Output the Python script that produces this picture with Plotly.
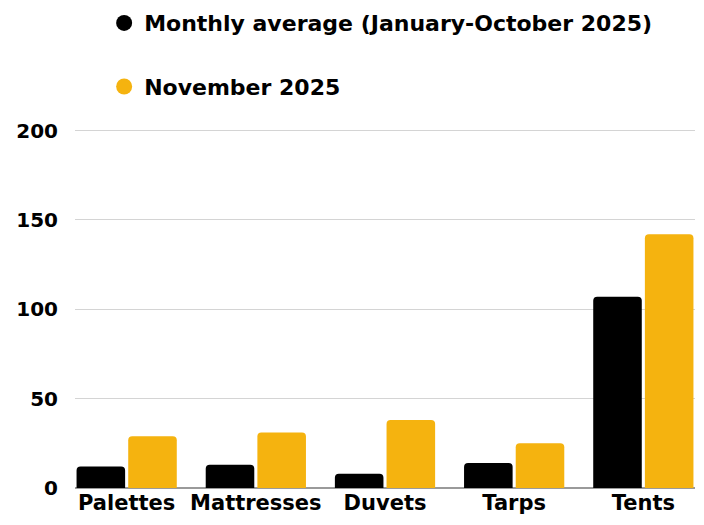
import plotly.graph_objects as go

categories = ["Palettes", "Mattresses", "Duvets", "Tarps", "Tents"]
monthly_avg = [12, 13, 8, 14, 107]
november = [29, 31, 38, 25, 142]
series_names = ["Monthly average (January-October 2025)", "November 2025"]
colors = ["#000000", "#F5B30F"]

FONT = "DejaVu Sans"

fig = go.Figure()

# bars (legend handled by circle markers below)
for vals, color in zip([monthly_avg, november], colors):
    fig.add_trace(go.Bar(
        x=categories, y=vals, marker=dict(color=color, cornerradius=4, line_width=0),
        showlegend=False,
    ))

for i, (name, color) in enumerate(zip(series_names, colors)):
    fig.add_trace(go.Scatter(
        x=[None], y=[None], mode="markers", name=name,
        marker=dict(color=color, size=16, symbol="circle"),
        legendgroup=f"g{i}",
    ))

# page has ~8px body margin, so the figure is sized to fit the window
fig.update_layout(
    width=688, height=509,
    margin=dict(l=67, r=1, t=119, b=29, autoexpand=False),
    paper_bgcolor="white", plot_bgcolor="white",
    font=dict(family=FONT, size=20, color="#000000", weight="bold"),
    barmode="group", bargap=0.2, bargroupgap=0.06,
    legend=dict(
        x=0.047, y=1.346, xanchor="left", yanchor="top",
        orientation="v", tracegroupgap=32, itemsizing="trace",
        font=dict(family=FONT, size=22, weight="bold"),
        bgcolor="rgba(0,0,0,0)",
    ),
    showlegend=True,
)

fig.update_xaxes(
    range=[-0.4, 4.4], showgrid=False, showline=False, ticks="",
    tickfont=dict(family=FONT, size=21, weight="bold"),
    zeroline=False, automargin=False,
)
fig.update_yaxes(
    range=[0, 202], tickvals=[0, 50, 100, 150, 200],
    showgrid=True, gridcolor="#d4d4d4", gridwidth=1,
    zeroline=True, zerolinecolor="#9a9a9a", zerolinewidth=1.5,
    ticks="", ticklabelstandoff=16, automargin=False,
    tickfont=dict(family=FONT, size=20, weight="bold"),
    showline=False,
)

fig.write_html("out.html")
